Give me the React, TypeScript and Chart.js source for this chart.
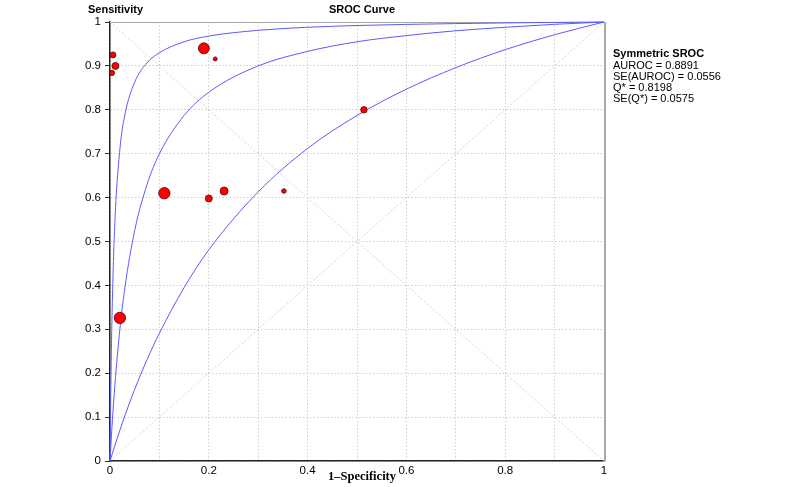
import React, { useEffect, useRef } from "react";
import { Chart, registerables } from "chart.js";

Chart.register(...registerables);

// Study points: 1-Specificity (FPR), Sensitivity (TPR), marker radius (study weight)
const studyFpr = [0.006, 0.011, 0.004, 0.19, 0.213, 0.514, 0.11, 0.2, 0.231, 0.352, 0.02];
const studyTpr = [0.925, 0.9, 0.884, 0.94, 0.916, 0.8, 0.61, 0.598, 0.615, 0.615, 0.326];
const studySize = [3, 3.5, 2.6, 5.5, 2, 3.2, 5.7, 3.5, 4, 2.3, 5.7];

// SROC curves
const curveFpr = [0, 0.002, 0.005, 0.01, 0.02, 0.03, 0.05, 0.075, 0.1, 0.15, 0.2, 0.3, 0.4, 0.5, 0.6, 0.7, 0.8, 0.9, 1];
const upperTpr = [0, 0.194, 0.376, 0.548, 0.71, 0.788, 0.863, 0.907, 0.93, 0.955, 0.968, 0.981, 0.988, 0.992, 0.9945, 0.9964, 0.9979, 0.9991, 1];
const middleTpr = [0, 0.04, 0.095, 0.175, 0.3, 0.394, 0.525, 0.63, 0.7, 0.787, 0.84, 0.9, 0.933, 0.955, 0.969, 0.98, 0.988, 0.9947, 1];
const lowerTpr = [0, 0.007, 0.018, 0.036, 0.07, 0.103, 0.163, 0.231, 0.291, 0.395, 0.481, 0.613, 0.712, 0.787, 0.847, 0.896, 0.937, 0.971, 1];

// Reference diagonals
const diagX = [0, 1];
const diagUp = [0, 1];
const diagDown = [1, 0];

const xTicks = [0, 0.1, 0.2, 0.3, 0.4, 0.5, 0.6, 0.7, 0.8, 0.9, 1];
const xTickLabels = ["0", "", "0.2", "", "0.4", "", "0.6", "", "0.8", "", "1"];
const yTickLabels = ["0", "0.1", "0.2", "0.3", "0.4", "0.5", "0.6", "0.7", "0.8", "0.9", "1"];

const titleText = "SROC Curve";
const yTitle = "Sensitivity";
const xTitle = "1\u2013Specificity";
const legendHead = "Symmetric SROC";
const legendLines = ["AUROC = 0.8891", "SE(AUROC) = 0.0556", "Q* = 0.8198", "SE(Q*) = 0.0575"];

const SANS = "Arial, 'Liberation Sans', sans-serif";

const pts = (xs: number[], ys: number[]) => xs.map((x, i) => ({ x, y: ys[i] }));

export default function App() {
  const ref = useRef<HTMLCanvasElement | null>(null);

  useEffect(() => {
    document.body.style.margin = "0";
    const canvas = ref.current;
    if (!canvas) return;

    const decor = {
      id: "decor",
      beforeDatasetsDraw(chart: any) {
        const { ctx, chartArea } = chart;
        ctx.save();
        ctx.strokeStyle = "#a8a8a8";
        ctx.lineWidth = 1;
        ctx.beginPath();
        ctx.moveTo(chartArea.left, chartArea.top + 0.5);
        ctx.lineTo(chartArea.right, chartArea.top + 0.5);
        ctx.stroke();
        ctx.lineWidth = 2;
        ctx.beginPath();
        ctx.moveTo(chartArea.right + 1, chartArea.top);
        ctx.lineTo(chartArea.right + 1, chartArea.bottom);
        ctx.stroke();
        ctx.restore();
      },
      afterDraw(chart: any) {
        const { ctx } = chart;
        ctx.save();
        ctx.fillStyle = "#000";
        ctx.textBaseline = "middle";
        ctx.font = `bold 11px ${SANS}`;
        ctx.textAlign = "left";
        ctx.fillText(yTitle, 88, 10);
        ctx.textAlign = "center";
        ctx.fillText(titleText, 362, 10);
        ctx.font = `bold 12.5px 'Liberation Serif', 'Times New Roman', serif`;
        ctx.fillText(xTitle, 362, 477);
        ctx.textAlign = "left";
        ctx.font = `bold 11px ${SANS}`;
        ctx.fillText(legendHead, 613, 54);
        ctx.font = `11px ${SANS}`;
        legendLines.forEach((t, i) => ctx.fillText(t, 613, 65.5 + i * 11.2));
        ctx.restore();
      },
    };

    const curveStyle = {
      showLine: true,
      borderColor: "#5a5aff",
      borderWidth: 1,
      pointRadius: 0,
      fill: false,
      cubicInterpolationMode: "monotone" as const,
      order: 1,
      clip: 2,
    };
    const diagStyle = {
      showLine: true,
      borderColor: "#d4d4d4",
      borderWidth: 1,
      borderDash: [2, 2],
      pointRadius: 0,
      fill: false,
      order: 2,
    };

    const chart = new Chart(canvas, {
      type: "scatter",
      data: {
        datasets: [
          {
            label: "Studies",
            data: pts(studyFpr, studyTpr),
            backgroundColor: "#ff0000",
            borderColor: "#5a0000",
            borderWidth: 0.8,
            pointRadius: studySize,
            order: 0,
            clip: false,
          } as any,
          { label: "Upper", data: pts(curveFpr, upperTpr), ...curveStyle } as any,
          { label: "SROC", data: pts(curveFpr, middleTpr), ...curveStyle } as any,
          { label: "Lower", data: pts(curveFpr, lowerTpr), ...curveStyle } as any,
          { label: "Diag1", data: pts(diagX, diagUp), ...diagStyle } as any,
          { label: "Diag2", data: pts(diagX, diagDown), ...diagStyle } as any,
        ],
      },
      options: {
        animation: false,
        responsive: false,
        devicePixelRatio: 1,
        layout: { padding: { left: 0, right: 196, top: 22, bottom: 0 } },
        plugins: { legend: { display: false }, tooltip: { enabled: false }, title: { display: false } },
        scales: {
          x: {
            type: "linear",
            min: 0,
            max: 1,
            afterBuildTicks(scale: any) {
              scale.ticks = xTicks.map((v) => ({ value: v }));
            },
            afterFit(scale: any) {
              scale.height = 26;
            },
            ticks: {
              autoSkip: false,
              maxRotation: 0,
              padding: 3,
              color: "#000",
              font: { family: SANS, size: 11.5 },
              callback: (_v: any, i: number) => xTickLabels[i],
            },
            grid: {
              color: "#cfcfcf",
              drawTicks: false,
              tickLength: 0,
            },
            border: { display: true, color: "#222", width: 1.5, dash: [1.5, 2] },
          } as any,
          y: {
            type: "linear",
            min: 0,
            max: 1,
            afterBuildTicks(scale: any) {
              scale.ticks = xTicks.map((v) => ({ value: v }));
            },
            afterFit(scale: any) {
              scale.width = 110;
            },
            ticks: {
              autoSkip: false,
              padding: 4,
              color: "#000",
              font: { family: SANS, size: 11.5 },
              callback: (_v: any, i: number) => yTickLabels[i],
            },
            grid: {
              color: "#cfcfcf",
              drawTicks: true,
              tickLength: 5,
              tickColor: "#333",
              tickBorderDash: [],
            },
            border: { display: true, color: "#222", width: 1.5, dash: [1.5, 2] },
          } as any,
        },
      },
      plugins: [decor],
    } as any);

    return () => chart.destroy();
  }, []);

  return <canvas ref={ref} width={800} height={487} style={{ display: "block" }} />;
}
